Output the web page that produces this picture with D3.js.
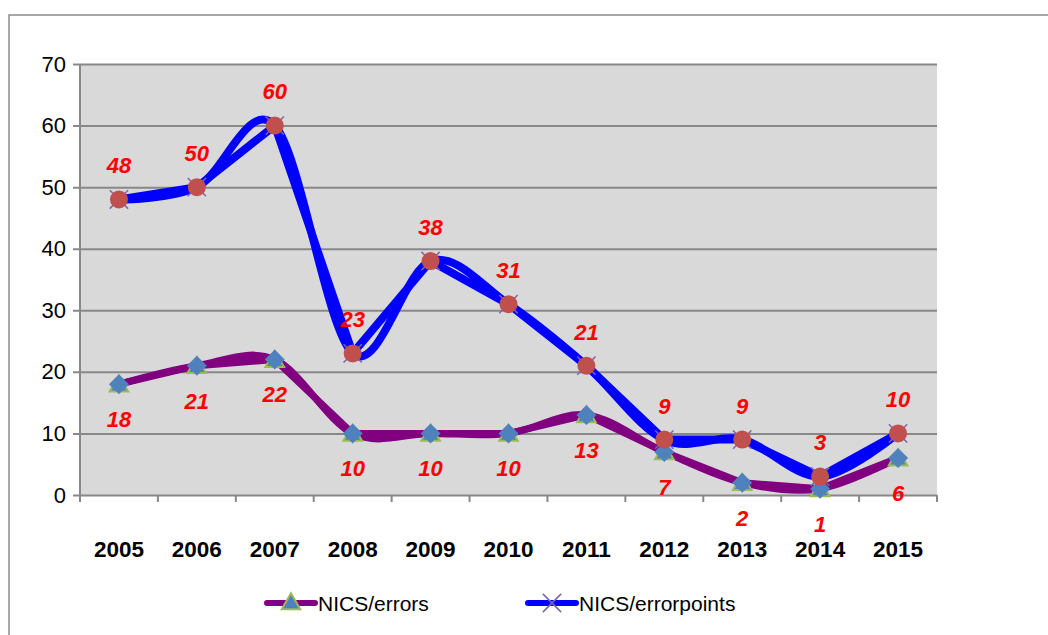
<!DOCTYPE html>
<html>
<head>
<meta charset="utf-8">
<script src="https://cdn.jsdelivr.net/npm/d3@7"></script>
<style>
  body { margin: 0; background: #fff; }
  text { font-family: "Liberation Sans", Arial, sans-serif; }
</style>
</head>
<body>
<div id="chart"></div>
<script>
// data
var years = ['2005','2006','2007','2008','2009','2010','2011','2012','2013','2014','2015'];
var errors = [18, 21, 22, 10, 10, 10, 13, 7, 2, 1, 6];
var errorPoints = [48, 50, 60, 23, 38, 31, 21, 9, 9, 3, 10];
var yTicks = [0, 10, 20, 30, 40, 50, 60, 70];

var svgWidth = 1048;
var svgHeight = 635;

var plot = {left: 80, top: 64, right: 937, bottom: 495};

var svg = d3.select('#chart')
    .append('svg')
    .attr('width', svgWidth)
    .attr('height', svgHeight);

// outer chart border
svg.append('rect')
    .attr('x', 9)
    .attr('y', 15)
    .attr('width', 1100)
    .attr('height', 700)
    .attr('fill', 'none')
    .attr('stroke', '#8a8a8a')
    .attr('stroke-width', 1.5);

//Scales
var xScale = d3.scaleBand()
    .domain(years)
    .range([plot.left, plot.right]);

var yScale = d3.scaleLinear()
    .domain([0, 70])
    .range([plot.bottom, plot.top]);

var cx = d => xScale(d) + xScale.bandwidth() / 2;

// plot background
svg.append('rect')
    .attr('x', plot.left)
    .attr('y', plot.top)
    .attr('width', plot.right - plot.left)
    .attr('height', plot.bottom - plot.top)
    .attr('fill', '#d9d9d9');

// gridlines + y axis
var yAxis = d3.axisLeft(yScale)
    .tickValues(yTicks)
    .tickSize(-(plot.right - plot.left))
    .tickPadding(14);

var yG = svg.append('g')
    .attr('transform', `translate(${plot.left},0)`)
    .call(yAxis);
yG.select('.domain').remove();
yG.selectAll('.tick line')
    .attr('x1', -7)
    .attr('stroke', '#888')
    .attr('stroke-width', 2);
yG.selectAll('.tick text')
    .attr('font-size', 22)
    .attr('fill', '#000');

svg.append('line')
    .attr('x1', plot.left).attr('x2', plot.left)
    .attr('y1', plot.top).attr('y2', plot.bottom + 7)
    .attr('stroke', '#888')
    .attr('stroke-width', 2);

// x axis ticks at category boundaries
svg.append('g')
    .selectAll('line')
    .data(years.concat(['end']))
    .enter()
    .append('line')
    .attr('x1', (d, i) => plot.left + i * xScale.bandwidth())
    .attr('x2', (d, i) => plot.left + i * xScale.bandwidth())
    .attr('y1', plot.bottom)
    .attr('y2', plot.bottom + 7)
    .attr('stroke', '#888')
    .attr('stroke-width', 2);

svg.append('g')
    .selectAll('text')
    .data(years)
    .enter()
    .append('text')
    .attr('x', d => cx(d))
    .attr('y', 557)
    .attr('text-anchor', 'middle')
    .attr('font-size', 22.5)
    .attr('font-weight', 'bold')
    .text(d => d);

// lines: straight + smoothed copy of each series
var straight = d3.line()
    .x((d, i) => cx(years[i]))
    .y(d => yScale(d));
var smooth = d3.line()
    .x((d, i) => cx(years[i]))
    .y(d => yScale(d))
    .curve(d3.curveCardinal.tension(0));

function drawLine(values, gen, color, width) {
    svg.append('path')
        .datum(values)
        .attr('d', gen)
        .attr('fill', 'none')
        .attr('stroke', color)
        .attr('stroke-width', width)
        .attr('stroke-linejoin', 'round')
        .attr('stroke-linecap', 'round');
}

drawLine(errors, straight, '#800080', 7);
drawLine(errorPoints, straight, '#0000ff', 8);
drawLine(errors, smooth, '#800080', 7);
drawLine(errorPoints, smooth, '#0000ff', 8);

// markers
var tri = d3.symbol().type(d3.symbolTriangle).size(150);
var diamond = d3.symbol().type(d3.symbolSquare).size(200);

svg.append('g')
    .selectAll('path')
    .data(errors)
    .enter()
    .append('path')
    .attr('d', tri)
    .attr('transform', (d, i) => `translate(${cx(years[i])},${yScale(d) + 2})`)
    .attr('fill', '#4f81bd')
    .attr('stroke', '#9bbb59')
    .attr('stroke-width', 2);

svg.append('g')
    .selectAll('path')
    .data(errorPoints)
    .enter()
    .append('path')
    .attr('d', d3.symbol().type(d3.symbolX).size(220))
    .attr('transform', (d, i) => `translate(${cx(years[i])},${yScale(d)})`)
    .attr('stroke', '#7a66a8')
    .attr('stroke-width', 1.5)
    .attr('fill', 'none');

svg.append('g')
    .selectAll('path')
    .data(errors)
    .enter()
    .append('path')
    .attr('d', diamond)
    .attr('transform', (d, i) => `translate(${cx(years[i])},${yScale(d)}) rotate(45)`)
    .attr('fill', '#4f81bd');

svg.append('g')
    .selectAll('circle')
    .data(errorPoints)
    .enter()
    .append('circle')
    .attr('cx', (d, i) => cx(years[i]))
    .attr('cy', d => yScale(d))
    .attr('r', 9)
    .attr('fill', '#c0504d');

// data labels
function drawLabels(values, dy) {
    svg.append('g')
        .selectAll('text')
        .data(values)
        .enter()
        .append('text')
        .attr('x', (d, i) => cx(years[i]))
        .attr('y', d => yScale(d) + dy)
        .attr('dy', '0.36em')
        .attr('text-anchor', 'middle')
        .attr('font-size', 22)
        .attr('font-weight', 'bold')
        .attr('font-style', 'italic')
        .attr('fill', '#ff0000')
        .text(d => d);
}
drawLabels(errorPoints, -34);
drawLabels(errors, 35);

// legend
var legend = [
    {name: 'NICS/errors', color: '#800080', x: 267},
    {name: 'NICS/errorpoints', color: '#0000ff', x: 528}
];
var legendY = 603;
legend.forEach(function(l, k) {
    svg.append('line')
        .attr('x1', l.x).attr('x2', l.x + 48)
        .attr('y1', legendY).attr('y2', legendY)
        .attr('stroke', l.color)
        .attr('stroke-width', 6)
        .attr('stroke-linecap', 'round');
    if (k === 0) {
        svg.append('path')
            .attr('d', tri)
            .attr('transform', `translate(${l.x + 24},${legendY + 1})`)
            .attr('fill', '#4f81bd')
            .attr('stroke', '#9bbb59')
            .attr('stroke-width', 2);
    } else {
        svg.append('path')
            .attr('d', d3.symbol().type(d3.symbolX).size(220))
            .attr('transform', `translate(${l.x + 24},${legendY})`)
            .attr('stroke', '#7a66a8')
            .attr('stroke-width', 1.5);
    }
    svg.append('text')
        .attr('x', l.x + 51)
        .attr('y', legendY)
        .attr('dy', '0.36em')
        .attr('font-size', 21)
        .text(l.name);
});
</script>
</body>
</html>
